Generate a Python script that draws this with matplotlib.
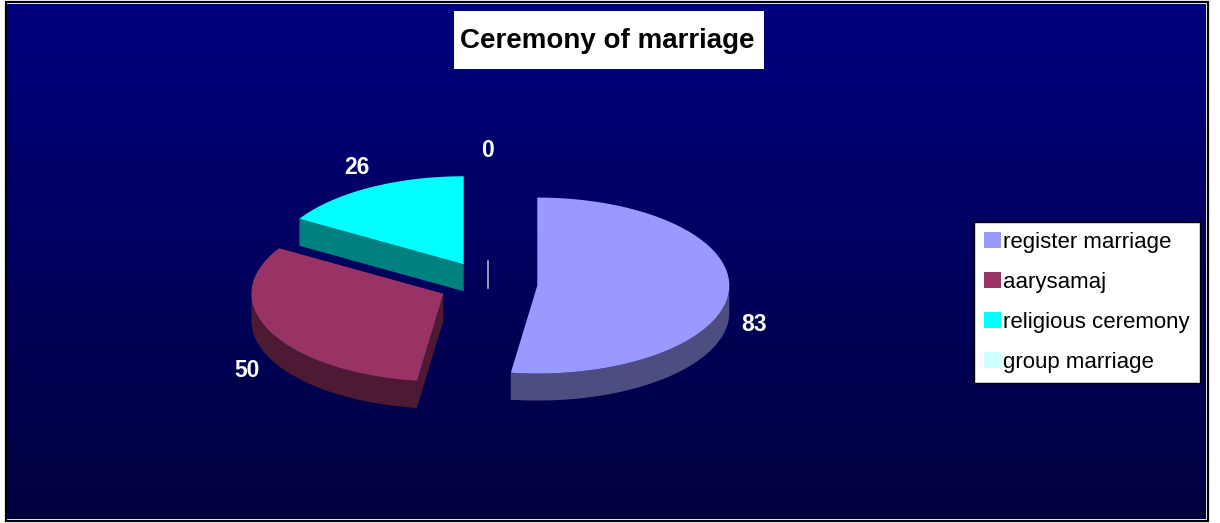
import numpy as np
import matplotlib
matplotlib.use("Agg")
import matplotlib.pyplot as plt
from matplotlib.patches import Polygon, Rectangle, Patch

# data
categories = ["register marriage", "aarysamaj", "religious ceremony", "group marriage"]
values = [83, 50, 26, 0]
top_colors = ["#9999ff", "#993366", "#00ffff", "#ccffff"]
side_colors = ["#4d4d80", "#4d1a33", "#008080", "#b0b8c0"]
title = "Ceremony of marriage"

plt.rcParams['font.family'] = ['Liberation Sans', 'DejaVu Sans']

W, H = 1220, 523
fig = plt.figure(figsize=(W / 100, H / 100), dpi=100)
fig.patch.set_facecolor("white")
ax = fig.add_axes([0, 0, 1, 1])
ax.set_xlim(0, W)
ax.set_ylim(H, 0)
ax.axis("off")

# background gradient + frame
grad = np.linspace(0, 1, 256).reshape(-1, 1)
top = np.array([0, 0, 128]) / 255
bot = np.array([0, 0, 62]) / 255
img = top + (bot - top) * grad[..., None]
ax.imshow(img, extent=(7, 1206, 519, 4), aspect="auto", zorder=0)
ax.add_patch(Rectangle((5.5, 2), 1202, 519, fill=False, ec="black", lw=1.6, zorder=1))

# title
ax.add_patch(Rectangle((454, 11), 310, 58, fc="white", ec="none", zorder=2))
ax.text(607, 41, title, ha="center", va="center", fontsize=20,
        fontweight="bold", color="black", zorder=3)

# 3d exploded pie geometry
cx, cy = 488, 284
rx, ry = 192, 88
depth = 27
explode = 49.4
k = ry / rx

total = sum(values)
angles = [v / total * 360 for v in values]
start = 90.0


def pt(x0, y0, t, dz=0):
    r = np.radians(t)
    return x0 + rx * np.cos(r), y0 - ry * np.sin(r) + dz


slices = []
a = start
for v, span in zip(values, angles):
    a1 = a - span          # clockwise
    b = np.radians((a + a1) / 2)
    vx = cx + explode * np.cos(b)
    vy = cy - explode * k * np.sin(b)
    slices.append((a1, a, vx, vy, b))
    a = a1

# side faces first
for (t0, t1, vx, vy, b), sc, v in zip(slices, side_colors, values):
    if v == 0:
        ax.plot([vx, vx], [vy, vy + depth], color=sc, lw=1.2, zorder=4)
        continue
    ts = np.linspace(t0, t1, 300)
    tn = np.mod(ts, 360)
    mask = (tn >= 180) & (tn <= 360)
    if mask.any():
        seg = ts[mask]
        upper = [pt(vx, vy, t) for t in seg]
        lower = [pt(vx, vy, t, depth) for t in seg[::-1]]
        ax.add_patch(Polygon(upper + lower, closed=True, fc=sc, ec="none", zorder=4))
    # radial cut faces that face the viewer
    for t, sgn in ((t1, 1), (t0, -1)):
        nrm = np.radians(t + 90 * sgn)
        if np.sin(nrm) < -1e-6:
            rim = pt(vx, vy, t)
            poly = [(vx, vy), rim, (rim[0], rim[1] + depth), (vx, vy + depth)]
            ax.add_patch(Polygon(poly, closed=True, fc=sc, ec="none", zorder=4))

# top faces
for (t0, t1, vx, vy, b), tc, v in zip(slices, top_colors, values):
    if v == 0:
        continue
    ts = np.linspace(t0, t1, 300)
    poly = [(vx, vy)] + [pt(vx, vy, t) for t in ts]
    ax.add_patch(Polygon(poly, closed=True, fc=tc, ec="none", zorder=5))

# data labels
for (t0, t1, vx, vy, b), v in zip(slices, values):
    lx = vx + 1.13 * rx * np.cos(b)
    ly = vy - 1.17 * ry * np.sin(b)
    if np.sin(b) < 0:
        ly += depth + 5
    else:
        ly -= 8 * np.sin(b)
    ax.text(lx, ly, str(v), ha="center", va="center", fontsize=16.5,
            fontweight="bold", color="white", zorder=6)

# legend
handles = [Patch(fc=c, ec="none", label=l) for c, l in zip(top_colors, categories)]
leg = ax.legend(handles=handles, loc="upper left",
                bbox_to_anchor=(974 / W, 1 - 222 / H), borderaxespad=0,
                fontsize=16, frameon=True, fancybox=False, shadow=False,
                handlelength=0.75, handleheight=0.75, handletextpad=0.12,
                labelspacing=0.85, borderpad=0.45)
leg.get_frame().set_edgecolor("black")
leg.get_frame().set_linewidth(1.0)
leg.get_frame().set_facecolor("white")
leg.get_frame().set_alpha(1)
leg.set_zorder(7)

fig.savefig("out.png", dpi=100, facecolor="white")
